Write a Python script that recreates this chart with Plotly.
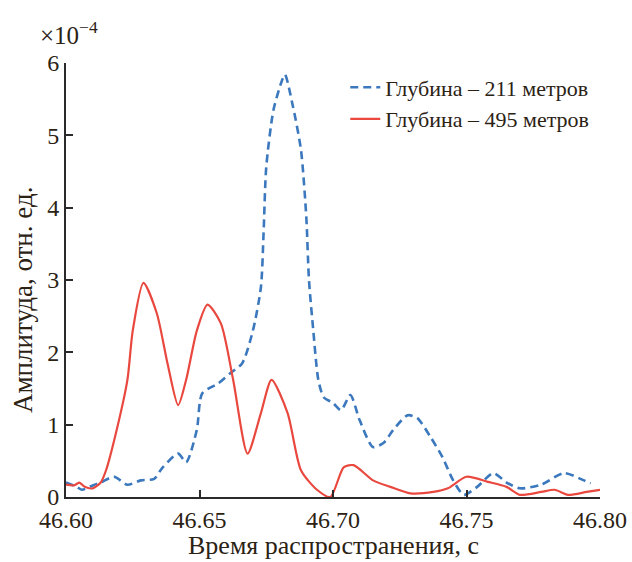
import plotly.graph_objects as go

# Depth 211 m (dashed blue), amplitude in units of 1e-4
t_211 = [46.600, 46.604, 46.606, 46.610, 46.613, 46.618, 46.623, 46.628, 46.633, 46.636,
         46.642, 46.645, 46.649, 46.651, 46.657, 46.6615, 46.666, 46.670, 46.673, 46.674,
         46.675, 46.6777, 46.681, 46.682, 46.685, 46.688, 46.690, 46.691, 46.6926, 46.6945,
         46.6965, 46.700, 46.703, 46.7065, 46.710, 46.715, 46.719, 46.7226, 46.728, 46.7316,
         46.7365, 46.741, 46.745, 46.749, 46.754, 46.760, 46.765, 46.770, 46.778, 46.7865,
         46.794, 46.7965]
a_211 = [0.20, 0.14, 0.10, 0.16, 0.20, 0.28, 0.17, 0.23, 0.25, 0.40,
         0.60, 0.48, 0.93, 1.43, 1.57, 1.71, 1.85, 2.30, 2.90, 3.65,
         4.56, 5.35, 5.77, 5.84, 5.40, 4.80, 3.87, 3.00, 2.31, 1.62,
         1.38, 1.30, 1.20, 1.41, 1.06, 0.69, 0.75, 0.93, 1.13, 1.09,
         0.83, 0.55, 0.23, 0.03, 0.14, 0.33, 0.20, 0.12, 0.17, 0.33,
         0.23, 0.19]

# Depth 495 m (solid red)
t_495 = [46.600, 46.603, 46.605, 46.607, 46.610, 46.613, 46.615, 46.619, 46.623, 46.625,
         46.629, 46.634, 46.638, 46.642, 46.645, 46.649, 46.653, 46.658, 46.6626, 46.668,
         46.673, 46.677, 46.683, 46.688, 46.694, 46.699, 46.704, 46.7077, 46.715, 46.7215,
         46.729, 46.7376, 46.743, 46.750, 46.758, 46.765, 46.770, 46.778, 46.783, 46.788,
         46.795, 46.800]
a_495 = [0.17, 0.16, 0.20, 0.14, 0.12, 0.20, 0.37, 0.93, 1.62, 2.30,
         2.96, 2.54, 1.85, 1.27, 1.62, 2.30, 2.66, 2.40, 1.62, 0.60,
         1.16, 1.62, 1.16, 0.37, 0.10, 0.00, 0.41, 0.44, 0.23, 0.14,
         0.05, 0.07, 0.12, 0.28, 0.21, 0.14, 0.03, 0.07, 0.10, 0.03,
         0.07, 0.10]

x_ticks = [46.60, 46.65, 46.70, 46.75, 46.80]
x_tick_labels = ["46.60", "46.65", "46.70", "46.75", "46.80"]
y_ticks = [0, 1, 2, 3, 4, 5, 6]

name_211 = "Глубина – 211 метров"
name_495 = "Глубина – 495 метров"
x_title = "Время распространения, с"
y_title = "Амплитуда, отн. ед."

FONT = "Liberation Serif"
TXT = "#2b2214"

fig = go.Figure()
fig.add_trace(go.Scatter(x=t_211, y=a_211, mode="lines", name=name_211, legendgroup="a",
                         line=dict(color="#3b78bd", width=2.6, dash="8px,5px",
                                   shape="spline", smoothing=0.7)))
fig.add_trace(go.Scatter(x=t_495, y=a_495, mode="lines", name=name_495, legendgroup="b",
                         line=dict(color="#e9483f", width=2.2, shape="spline", smoothing=0.7)))

fig.update_layout(
    width=632, height=562,
    margin=dict(l=66, r=32, t=63, b=65),
    paper_bgcolor="white", plot_bgcolor="white",
    font=dict(family=FONT, color=TXT, size=24),
    showlegend=True,
    legend=dict(x=0.523, y=0.992, xanchor="left", yanchor="top",
                bgcolor="rgba(0,0,0,0)", font=dict(size=22, family=FONT, color=TXT),
                itemwidth=30, tracegroupgap=0, traceorder="grouped"),
    xaxis=dict(range=[46.60, 46.80], tickvals=x_ticks, ticktext=x_tick_labels,
               automargin=False,
               showgrid=False, zeroline=False, showline=True, linecolor="#2a2a2a",
               linewidth=2, ticks="inside", ticklen=7, tickwidth=1.5, tickcolor="#2a2a2a",
               tickfont=dict(size=24)),
    yaxis=dict(range=[0, 6], tickvals=y_ticks, showgrid=False, zeroline=False,
               automargin=False,
               showline=True, linecolor="#2a2a2a", linewidth=2, ticks="inside",
               ticklen=7, tickwidth=1.5, tickcolor="#2a2a2a", tickfont=dict(size=24)),
)

# axis titles as annotations, placed like the reference
fig.add_annotation(x=0.5, y=0, xref="paper", yref="paper", xanchor="center", yanchor="bottom",
                   yshift=-65, showarrow=False, text=x_title,
                   font=dict(size=26, family=FONT, color=TXT))
fig.add_annotation(x=0, y=0.5, xref="paper", yref="paper", xanchor="center", yanchor="middle",
                   xshift=-43, yshift=-20, showarrow=False, text=y_title, textangle=-90,
                   font=dict(size=27, family=FONT, color=TXT))
fig.add_annotation(x=0, y=1, xref="paper", yref="paper", xanchor="left", yanchor="bottom",
                   xshift=-28, yshift=12, showarrow=False,
                   text="×10<sup>−4</sup>", font=dict(size=25, family=FONT, color=TXT))

fig.write_html("out.html")
